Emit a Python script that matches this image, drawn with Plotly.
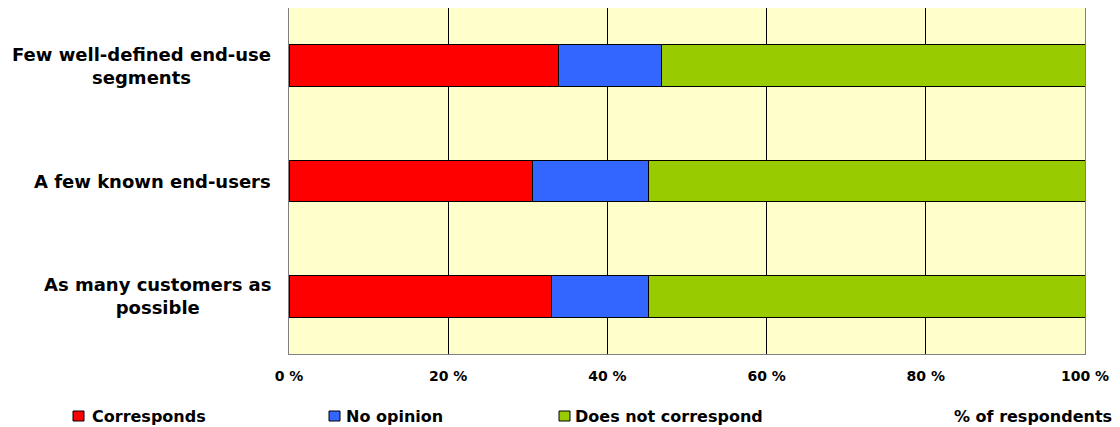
import plotly.graph_objects as go

categories = ["Few well-defined end-use<br>segments", "A few known end-users", "As many customers as<br>possible"]
series_names = ["Corresponds", "No opinion", "Does not correspond"]
corresponds = [33.8, 30.6, 33.0]
no_opinion = [13.0, 14.6, 12.2]
does_not = [53.2, 54.8, 54.8]
tick_vals = [0, 20, 40, 60, 80, 100]
tick_text = ["0 %", "20 %", "40 %", "60 %", "80 %", "100 %"]
unit_label = "% of respondents"

colors = ["#FF0000", "#3366FF", "#99CC00"]
FONT = "DejaVu Sans, Liberation Sans, Arial, sans-serif"

# figure geometry (page has 8px body margin)
W, H = 1112, 419
L, R, T, B = 281, 35, 0, 73
PW, PH = W - L - R, H - T - B

def px(xf):
    return (xf - L) / PW

def py(yf):
    return (H - B - yf) / PH

fig = go.Figure()
for name, vals, col in zip(series_names, [corresponds, no_opinion, does_not], colors):
    fig.add_trace(go.Bar(y=categories, x=vals, name=name, orientation="h",
                         marker=dict(color=col, line=dict(color="#000000", width=1)),
                         showlegend=False))

for c in categories:
    fig.add_annotation(x=px(265), xref="paper", y=c, yref="y", text="<b>%s</b>" % c,
                       showarrow=False, xanchor="right", yanchor="middle", align="center",
                       font=dict(family=FONT, size=18, color="#000000"))

# legend (drawn manually to match the original spacing)
leg_sq_x = [65, 321, 551]
leg_txt_x = [82, 336, 565]
leg_y = 408
for name, col, sx, tx in zip(series_names, colors, leg_sq_x, leg_txt_x):
    fig.add_shape(type="rect", xref="paper", yref="paper",
                  x0=px(sx), x1=px(sx + 11), y0=py(leg_y - 5), y1=py(leg_y + 5),
                  fillcolor=col, line=dict(color="#000000", width=1))
    fig.add_annotation(x=px(tx), xref="paper", y=py(leg_y), yref="paper",
                       text="<b>%s</b>" % name, showarrow=False, xanchor="left", yanchor="middle",
                       font=dict(family=FONT, size=16, color="#000000"))

fig.add_annotation(x=px(1106), xref="paper", y=py(leg_y), yref="paper",
                   text="<b>%s</b>" % unit_label, showarrow=False, xanchor="right",
                   yanchor="middle", font=dict(family=FONT, size=16, color="#000000"))

fig.update_layout(
    width=W, height=H,
    barmode="stack", bargap=0.64,
    plot_bgcolor="#FFFFCC", paper_bgcolor="#FFFFFF",
    margin=dict(l=L, r=R, t=T, b=B, autoexpand=False),
    showlegend=False,
    xaxis=dict(range=[0, 100], tickvals=tick_vals, ticktext=["<b>%s</b>" % t for t in tick_text],
               showgrid=True, gridcolor="#000000", gridwidth=1, zeroline=False,
               showline=True, linecolor="#808080", linewidth=1, mirror=True,
               tickfont=dict(family=FONT, size=14, color="#000000"), ticks="", ticklen=0,
               ticklabelstandoff=9),
    yaxis=dict(categoryorder="array", categoryarray=categories, autorange="reversed",
               showticklabels=False, showgrid=False, zeroline=False,
               showline=True, linecolor="#808080", linewidth=1, mirror=True),
)
fig.write_html("out.html")
